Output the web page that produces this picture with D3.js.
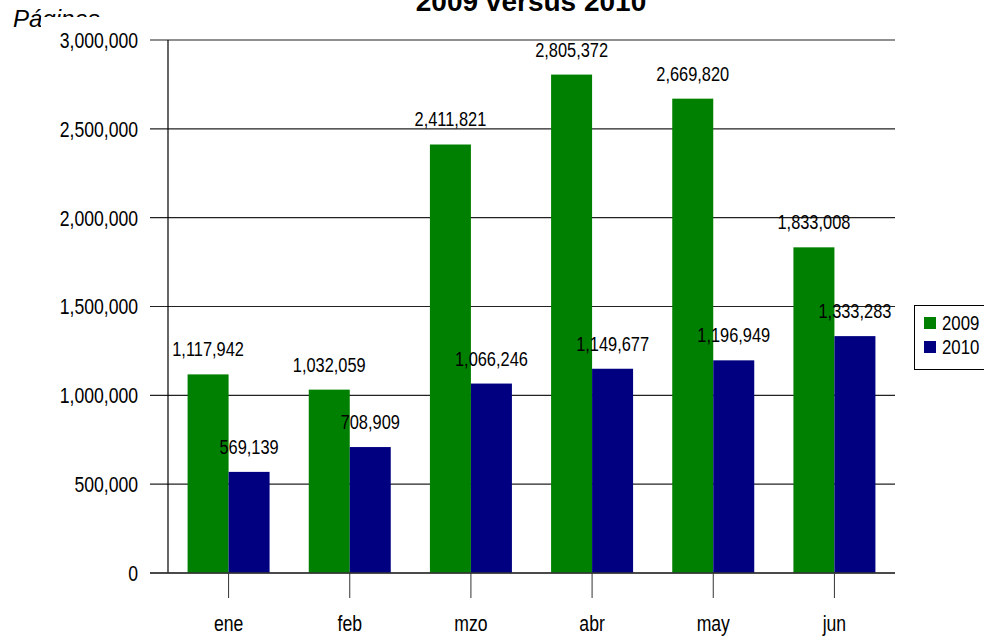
<!DOCTYPE html>
<html>
<head>
<meta charset="utf-8">
<script src="https://cdn.jsdelivr.net/npm/d3@7"></script>
<style>
  html, body { margin: 0; padding: 0; background: #fff; }
  svg { display: block; }
  text { font-family: "Liberation Sans", Arial, sans-serif; fill: #000; }
</style>
</head>
<body>
<svg id="chart" width="984" height="637"></svg>
<script>
const categories = ["ene", "feb", "mzo", "abr", "may", "jun"];
const seriesNames = ["2009", "2010"];
const values2009 = [1117942, 1032059, 2411821, 2805372, 2669820, 1833008];
const values2010 = [569139, 708909, 1066246, 1149677, 1196949, 1333283];
const yTicks = [0, 500000, 1000000, 1500000, 2000000, 2500000, 3000000];
const colors = ["#008000", "#000080"];

const svg = d3.select("#chart");
const plot = { left: 168, right: 895, top: 40, bottom: 573 };

const x = d3.scaleBand().domain(categories).range([plot.left, plot.right]).paddingInner(0).paddingOuter(0);
const y = d3.scaleLinear().domain([0, 3000000]).range([plot.bottom, plot.top]);
const barW = 41;
const fmt = d3.format(",");
const SX = 0.8;

// narrow text helper: condensed look by horizontal scaling
function narrowText(sel, data, xf, yf, size, anchor, txt, dy) {
  const g = sel.selectAll("g.nt").data(data).join("g")
    .attr("transform", (d, i) => `translate(${xf(d, i)},${yf(d, i)}) scale(${SX},1)`);
  g.append("text")
    .attr("text-anchor", anchor)
    .attr("dy", dy || 0)
    .style("font-size", size + "px")
    .text(txt);
  return g;
}

// Title (cut at top as in the reference)
svg.append("text")
  .attr("x", 531).attr("y", 11)
  .attr("text-anchor", "middle")
  .style("font-weight", "bold")
  .style("font-size", "28px")
  .text("2009 versus 2010");

// Y axis title, partially hidden
svg.append("text")
  .attr("x", 13).attr("y", 27)
  .style("font-style", "italic")
  .style("font-size", "24px")
  .text("Páginas");
svg.append("rect").attr("x", 41).attr("y", 17).attr("width", 80).attr("height", 22).attr("fill", "#fff");

// Gridlines
svg.append("g").selectAll("line").data(yTicks).join("line")
  .attr("x1", 150).attr("x2", plot.right)
  .attr("y1", d => y(d)).attr("y2", d => y(d))
  .attr("stroke", "#222").attr("stroke-width", 1.2);

// Y tick labels
narrowText(svg.append("g"), yTicks, () => 138, d => y(d), 22, "end", d => fmt(d), "0.36em");

// Vertical axis line
svg.append("line")
  .attr("x1", plot.left).attr("x2", plot.left)
  .attr("y1", plot.top).attr("y2", plot.bottom)
  .attr("stroke", "#000").attr("stroke-width", 1.2);

// Bars
const series = [values2009, values2010];
series.forEach((vals, si) => {
  svg.append("g").selectAll("rect").data(vals).join("rect")
    .attr("x", (d, i) => x(categories[i]) + x.bandwidth() / 2 - barW + si * barW)
    .attr("y", d => y(d))
    .attr("width", barW)
    .attr("height", d => y(0) - y(d))
    .attr("fill", colors[si]);
});

// Zero line on top
svg.append("line")
  .attr("x1", 150).attr("x2", plot.right)
  .attr("y1", y(0)).attr("y2", y(0))
  .attr("stroke", "#333").attr("stroke-width", 1.5);

// Category ticks & labels
svg.append("g").selectAll("line").data(categories).join("line")
  .attr("x1", d => x(d) + x.bandwidth() / 2).attr("x2", d => x(d) + x.bandwidth() / 2)
  .attr("y1", y(0)).attr("y2", 598)
  .attr("stroke", "#333").attr("stroke-width", 1);
narrowText(svg.append("g"), categories, d => x(d) + x.bandwidth() / 2, () => 631, 22, "middle", d => d);

// Data labels
series.forEach((vals, si) => {
  narrowText(svg.append("g"), vals,
    (d, i) => x(categories[i]) + x.bandwidth() / 2 - barW / 2 + si * barW,
    d => y(d) - 18, 20.5, "middle", d => fmt(d));
});

// Legend
const lg = svg.append("g");
lg.append("rect").attr("x", 914.5).attr("y", 305.5).attr("width", 80).attr("height", 64)
  .attr("fill", "#fff").attr("stroke", "#000").attr("stroke-width", 1);
seriesNames.forEach((n, i) => {
  lg.append("rect").attr("x", 924).attr("y", 317 + i * 24).attr("width", 12).attr("height", 12).attr("fill", colors[i]);
});
narrowText(lg.append("g"), seriesNames, () => 942, (d, i) => 330 + i * 24, 21, "start", d => d);
</script>
</body>
</html>
